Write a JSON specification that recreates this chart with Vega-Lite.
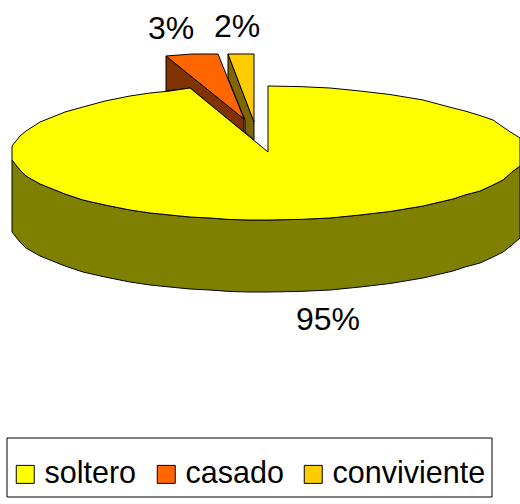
{"$schema":"https://vega.github.io/schema/vega-lite/v6.json","width":520,"height":504,"padding":0,"autosize":"none","background":"white","config":{"view":{"stroke":null}},
"datasets":{
"wall":[{"i":1,"x":12,"y":160,"y2":232},{"i":2,"x":20,"y":170,"y2":242},{"i":3,"x":26,"y":176,"y2":248},{"i":4,"x":40,"y":184,"y2":256},{"i":5,"x":50,"y":188,"y2":260},{"i":6,"x":65,"y":194,"y2":266},{"i":7,"x":83,"y":200,"y2":272},{"i":8,"x":105,"y":205,"y2":277},{"i":9,"x":130,"y":210,"y2":282},{"i":10,"x":150,"y":213,"y2":285},{"i":11,"x":170,"y":215,"y2":287},{"i":12,"x":190,"y":217,"y2":289},{"i":13,"x":210,"y":218,"y2":290},{"i":14,"x":230,"y":219.5,"y2":291.5},{"i":15,"x":250,"y":220,"y2":292},{"i":16,"x":268,"y":220,"y2":292},{"i":17,"x":300,"y":219.4,"y2":291.4},{"i":18,"x":330,"y":218,"y2":290},{"i":19,"x":360,"y":215,"y2":287},{"i":20,"x":390,"y":211.5,"y2":283.5},{"i":21,"x":423,"y":206,"y2":278},{"i":22,"x":453,"y":199,"y2":271},{"i":23,"x":465,"y":195,"y2":267},{"i":24,"x":480,"y":191,"y2":263},{"i":25,"x":493,"y":185,"y2":257},{"i":26,"x":503,"y":180,"y2":252},{"i":27,"x":512,"y":172,"y2":245},{"i":28,"x":520,"y":166,"y2":238}],
"top":[{"estado":"soltero","i":1,"x":12,"y":146,"y2":160},{"estado":"soltero","i":2,"x":20,"y":136,"y2":170},{"estado":"soltero","i":3,"x":26,"y":131,"y2":176},{"estado":"soltero","i":4,"x":40,"y":122,"y2":184},{"estado":"soltero","i":5,"x":50,"y":118,"y2":188},{"estado":"soltero","i":6,"x":65,"y":112,"y2":194},{"estado":"soltero","i":7,"x":83,"y":107,"y2":200},{"estado":"soltero","i":8,"x":105,"y":101,"y2":205},{"estado":"soltero","i":9,"x":130,"y":96,"y2":210},{"estado":"soltero","i":10,"x":150,"y":93,"y2":213},{"estado":"soltero","i":11,"x":170,"y":91,"y2":215},{"estado":"soltero","i":12,"x":190,"y":88,"y2":217},{"estado":"soltero","i":13,"x":210,"y":104.4,"y2":218},{"estado":"soltero","i":14,"x":230,"y":120.8,"y2":219.5},{"estado":"soltero","i":15,"x":250,"y":137.2,"y2":220},{"estado":"soltero","i":16,"x":268,"y":152,"y2":220},{"estado":"soltero","i":17,"x":268,"y":86,"y2":220},{"estado":"soltero","i":18,"x":300,"y":86.6,"y2":219.4},{"estado":"soltero","i":19,"x":330,"y":88,"y2":218},{"estado":"soltero","i":20,"x":360,"y":91,"y2":215},{"estado":"soltero","i":21,"x":390,"y":94.5,"y2":211.5},{"estado":"soltero","i":22,"x":423,"y":100,"y2":206},{"estado":"soltero","i":23,"x":453,"y":108,"y2":199},{"estado":"soltero","i":24,"x":465,"y":111,"y2":195},{"estado":"soltero","i":25,"x":480,"y":115.5,"y2":191},{"estado":"soltero","i":26,"x":493,"y":120,"y2":185},{"estado":"soltero","i":27,"x":503,"y":127,"y2":180},{"estado":"soltero","i":28,"x":512,"y":133,"y2":172},{"estado":"soltero","i":29,"x":520,"y":138,"y2":166}],
"casadoTop":[{"estado":"casado","i":1,"x":166,"y":56,"y2":56},{"estado":"casado","i":2,"x":192,"y":54,"y2":77},{"estado":"casado","i":3,"x":218,"y":54,"y2":98},{"estado":"casado","i":4,"x":244,"y":119,"y2":119}],
"casadoWall":[{"i":1,"x":166,"y":56,"y2":91},{"i":2,"x":190,"y":75.4,"y2":88},{"i":3,"x":244,"y":119,"y2":132}],
"convTop":[{"estado":"conviviente","i":1,"x":228,"y":54,"y2":54},{"estado":"conviviente","i":2,"x":254,"y":54,"y2":122}],
"convWall":[{"i":1,"x":228,"y":54,"y2":78},{"i":2,"x":245,"y":98.5,"y2":120},{"i":3,"x":245,"y":98.5,"y2":132},{"i":4,"x":254,"y":122,"y2":140}],
"frame":[{"x":7,"x2":492,"y":438,"y2":497}],
"pct":[{"pct":"3%","x":171,"y":29},{"pct":"2%","x":237,"y":27},{"pct":"95%","x":328,"y":320}]
},
"layer":[
{"data":{"name":"frame"},"mark":{"type":"rect","fill":"white","stroke":"black","strokeWidth":1},"encoding":{"x":{"field":"x","type":"quantitative","scale":{"domain":[0,520],"nice":false,"zero":false},"axis":null},"x2":{"field":"x2"},"y":{"field":"y","type":"quantitative","scale":{"domain":[504,0],"nice":false,"zero":false},"axis":null},"y2":{"field":"y2"}}},
{"data":{"name":"convWall"},"mark":{"type":"area","color":"#806600","stroke":"black","strokeWidth":1},"encoding":{"x":{"field":"x","type":"quantitative"},"y":{"field":"y","type":"quantitative"},"y2":{"field":"y2"}}},
{"data":{"name":"convTop"},"mark":{"type":"area","stroke":"black","strokeWidth":1},"encoding":{"x":{"field":"x","type":"quantitative"},"y":{"field":"y","type":"quantitative"},"y2":{"field":"y2"},"color":{"field":"estado","type":"nominal","scale":{"domain":["soltero","casado","conviviente"],"range":["#FFFF00","#FF6600","#FFCC00"]},"legend":{"title":null,"orient":"none","legendX":10,"legendY":459,"direction":"horizontal","columns":3,"symbolType":"square","symbolSize":324,"symbolStrokeColor":"black","symbolStrokeWidth":1,"symbolOpacity":1,"labelFont":"Liberation Sans","labelFontSize":30.5,"labelColor":"black","labelLimit":300,"labelOffset":4,"columnPadding":14,"padding":0}}}},
{"data":{"name":"casadoWall"},"mark":{"type":"area","color":"#803300","stroke":"black","strokeWidth":1},"encoding":{"x":{"field":"x","type":"quantitative"},"y":{"field":"y","type":"quantitative"},"y2":{"field":"y2"}}},
{"data":{"name":"casadoTop"},"mark":{"type":"area","stroke":"black","strokeWidth":1},"encoding":{"x":{"field":"x","type":"quantitative"},"y":{"field":"y","type":"quantitative"},"y2":{"field":"y2"},"color":{"field":"estado","type":"nominal"}}},
{"data":{"name":"wall"},"mark":{"type":"area","color":"#808000","stroke":"black","strokeWidth":1},"encoding":{"x":{"field":"x","type":"quantitative"},"y":{"field":"y","type":"quantitative"},"y2":{"field":"y2"}}},
{"data":{"name":"top"},"mark":{"type":"area","stroke":"black","strokeWidth":1},"encoding":{"x":{"field":"x","type":"quantitative"},"y":{"field":"y","type":"quantitative"},"y2":{"field":"y2"},"color":{"field":"estado","type":"nominal"}}},
{"data":{"name":"pct"},"mark":{"type":"text","font":"Liberation Sans","fontSize":32,"color":"black"},"encoding":{"x":{"field":"x","type":"quantitative"},"y":{"field":"y","type":"quantitative"},"text":{"field":"pct"}}}
]}
